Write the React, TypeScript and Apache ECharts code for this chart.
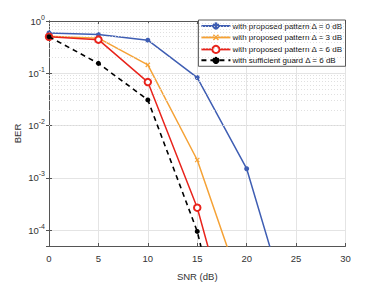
import React, { useEffect, useRef } from "react";
import * as echarts from "echarts";

const snr = [0, 5, 10, 15, 20, 25];
const berDelta0 = [0.59, 0.55, 0.43, 0.083, 0.0015, 1e-6];
const berDelta3 = [0.51, 0.47, 0.145, 0.0022, 4e-6];
const berDelta6 = [0.5, 0.44, 0.068, 2.7e-4, 1e-7];
const berGuard6 = [0.5, 0.155, 0.031, 9.5e-5, 1.2e-8];
const seriesNames = [
  "with proposed pattern \u0394 = 0 dB",
  "with proposed pattern \u0394 = 3 dB",
  "with proposed pattern \u0394 = 6 dB",
  "with sufficient guard \u0394 = 6 dB",
];
const yMin = 5e-5;
const yMax = 1;

const FONT = "Liberation Sans, Arial, sans-serif";

function pairs(ys: number[]) {
  return ys.map((y, i) => [snr[i], y]);
}

function minorValues() {
  const out: number[] = [];
  for (let d = -5; d <= -1; d++) {
    for (let k = 2; k <= 9; k++) {
      const v = k * Math.pow(10, d);
      if (v > yMin && v < yMax) out.push(v);
    }
  }
  return out;
}

export default function App() {
  const ref = useRef<HTMLDivElement>(null);
  useEffect(() => {
    if (!ref.current) return;
    const chart = echarts.init(ref.current, null, { renderer: "svg" });
    const yLabel = (v: number) => {
      const e = Math.log10(v);
      if (Math.abs(e - Math.round(e)) > 1e-6) return "";
      return `{b|10}{s|${Math.round(e)}}`;
    };
    chart.setOption({
      animation: false,
      backgroundColor: "#fff",
      textStyle: { fontFamily: FONT },
      grid: { left: 49, right: 36.5, top: 21, bottom: 32, show: false },
      legend: {
        orient: "vertical",
        right: 36.5,
        top: 20,
        data: seriesNames,
        backgroundColor: "#fff",
        borderColor: "#333",
        borderWidth: 0.8,
        borderRadius: 0,
        padding: [2, 3, 2, 2],
        itemGap: 2.3,
        itemWidth: 29,
        itemHeight: 9,
        textStyle: { fontSize: 8, color: "#111", fontFamily: FONT, padding: [0, 0, 0, -3] },
      },
      xAxis: [
        {
          type: "value",
          min: 0,
          max: 30,
          interval: 5,
          name: "SNR (dB)",
          nameLocation: "middle",
          nameGap: 25,
          nameMoveOverlap: false,
          nameTextStyle: { fontSize: 9.5, color: "#333" },
          axisLine: { lineStyle: { color: "#555", width: 1 } },
          axisTick: { inside: true, length: 3, lineStyle: { color: "#555" } },
          axisLabel: { fontSize: 9.5, color: "#333", margin: 7 },
          splitLine: { show: true, lineStyle: { color: "#e4e4e4", width: 1 } },
        },
        {
          type: "value",
          position: "top",
          min: 0,
          max: 30,
          interval: 5,
          axisLine: { show: true, onZero: false, lineStyle: { color: "#555", width: 1 } },
          axisTick: { show: true, inside: true, length: 3, lineStyle: { color: "#555" } },
          axisLabel: { show: false },
          splitLine: { show: false },
        },
      ],
      yAxis: [
        {
          type: "log",
          logBase: 10,
          min: yMin,
          max: yMax,
          name: "BER",
          nameLocation: "middle",
          nameRotate: 90,
          nameGap: 27,
          nameMoveOverlap: false,
          nameTextStyle: { fontSize: 9.5, color: "#333" },
          axisLine: { show: true, lineStyle: { color: "#555", width: 1 } },
          axisTick: { show: true, inside: true, length: 3, lineStyle: { color: "#555" } },
          axisLabel: {
            formatter: yLabel,
            margin: 4,
            rich: {
              b: { fontSize: 9.5, color: "#333", fontFamily: FONT, lineHeight: 12 },
              s: { fontSize: 7, color: "#333", fontFamily: FONT, lineHeight: 12, padding: [0, 0, 8, 0] },
            },
          },
          splitLine: { show: true, lineStyle: { color: "#e4e4e4", width: 1 } },
        },
        {
          type: "log",
          logBase: 10,
          min: yMin,
          max: yMax,
          position: "right",
          axisLine: { show: true, lineStyle: { color: "#555", width: 1 } },
          axisTick: { show: true, inside: true, length: 3, lineStyle: { color: "#555" } },
          axisLabel: { show: false },
          splitLine: { show: false },
        },
      ],
      series: [
        {
          type: "line",
          name: "minor",
          data: [],
          z: 1,
          silent: true,
          markLine: {
            silent: true,
            symbol: "none",
            label: { show: false },
            lineStyle: { color: "#d8d8d8", type: [1, 2], width: 0.8 },
            data: minorValues().map((v) => ({ yAxis: v })),
          },
        },
        {
          type: "line",
          name: seriesNames[0],
          data: pairs(berDelta0),
          color: "#3F5EB3",
          lineStyle: { width: 1.5 },
          symbol: "circle",
          symbolSize: 5,
          z: 3,
        },
        {
          type: "line",
          name: seriesNames[1],
          data: pairs(berDelta3),
          color: "#F5A236",
          lineStyle: { width: 1.5 },
          symbol: "path://M4,0H6V4H10V6H6V10H4V6H0V4H4Z",
          symbolRotate: 45,
          symbolSize: 6,
          z: 4,
        },
        {
          type: "line",
          name: seriesNames[2],
          data: pairs(berDelta6),
          color: "#E8241C",
          lineStyle: { width: 1.5 },
          symbol: "emptyCircle",
          symbolSize: 6.5,
          itemStyle: { borderWidth: 1.3 },
          z: 5,
        },
        {
          type: "line",
          name: seriesNames[3],
          data: pairs(berGuard6),
          color: "#000",
          lineStyle: { width: 1.6, type: [5, 4] },
          symbol: "circle",
          symbolSize: 5,
          z: 6,
        },
      ],
    });
    return () => chart.dispose();
  }, []);
  return (
    <div
      ref={ref}
      style={{ position: "fixed", left: 0, top: 0, width: 382, height: 286 }}
    />
  );
}
